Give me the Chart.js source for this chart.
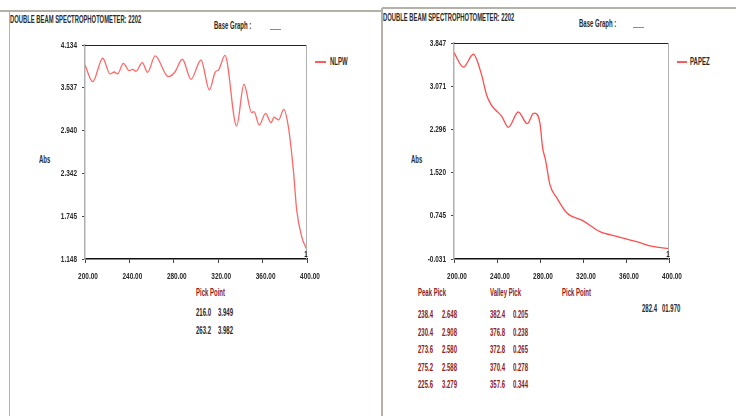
<!DOCTYPE html>
<html>
<head>
<meta charset="utf-8">
<script src="https://cdn.jsdelivr.net/npm/chart.js@4"></script>
<style>
  html, body { margin: 0; padding: 0; background: #fff; }
  body { width: 736px; height: 416px; position: relative; overflow: hidden;
         font-family: "Liberation Sans", Arial, sans-serif; }
  .frame { position: absolute; background: #b4b1a6; }
  .t { position: absolute; white-space: nowrap; color: #2a2a2a; font-size: 10px; line-height: 10px;
       font-weight: bold; transform: scaleX(0.6); transform-origin: 0 0; }
  .title { font-size: 10px; transform: scaleX(0.585); }
  .red { color: #8e2020; }
  .dash { position: absolute; height: 1.5px; background: #ff5a5a; }
  canvas { position: absolute; }
</style>
</head>
<body>
<!-- panel frames -->
<div class="frame" style="left:0;top:10px;width:382px;height:2px"></div>
<div class="frame" style="left:382px;top:7px;width:354px;height:2px"></div>
<div class="frame" style="left:9px;top:11px;width:1px;height:405px"></div>
<div class="frame" style="left:381px;top:8px;width:2px;height:408px"></div>

<!-- left panel texts -->
<div class="t title" style="left:10px;top:15px">DOUBLE BEAM SPECTROPHOTOMETER: 2202</div>
<div class="t" style="left:214px;top:21px">Base Graph :</div>
<div class="dash" style="left:270px;top:28.5px;width:11px"></div>
<div class="dash" style="left:315px;top:61px;width:11px"></div>
<div class="t" style="left:330px;top:57px">NLPW</div>
<div class="t" style="left:39px;top:155px">Abs</div>
<div class="t red" style="left:196px;top:288px">Pick Point</div>
<div id="leftPicks"></div>

<!-- right panel texts -->
<div class="t title" style="left:383px;top:13px">DOUBLE BEAM SPECTROPHOTOMETER: 2202</div>
<div class="t" style="left:579px;top:19px">Base Graph :</div>
<div class="dash" style="left:633px;top:26.5px;width:11px"></div>
<div class="dash" style="left:677px;top:61px;width:10px"></div>
<div class="t" style="left:690px;top:57px">PAPEZ</div>
<div class="t" style="left:411px;top:155px">Abs</div>
<div class="t red" style="left:418px;top:288px">Peak Pick</div>
<div class="t red" style="left:490px;top:288px">Valley Pick</div>
<div class="t red" style="left:562px;top:288px">Pick Point</div>
<div id="rightPicks"></div>

<canvas id="c1" width="381" height="300" style="left:0;top:0"></canvas>
<canvas id="c2" width="354" height="300" style="left:382px;top:0"></canvas>

<script>
// NLPW absorbance spectrum (wavelength in nm)
const nlpwWl  = [200, 206.9, 216.0, 222.5, 226.4, 229.4, 234.5, 239.9, 242.9, 245.9, 251.6, 256.4, 263.2, 275.0, 281.0, 287.7, 295.5, 304.5, 312.0, 317.1, 320.7, 326.1, 336.6, 343.2, 350.1, 352.2, 357.0, 362.7, 367.6, 370.3, 374.5, 379.0, 383.2, 387.7, 390.7, 395.2, 400];
const nlpwAbs = [3.855, 3.622, 3.949, 3.730, 3.757, 3.730, 3.879, 3.776, 3.795, 3.767, 3.887, 3.753, 3.982, 3.692, 3.757, 3.935, 3.656, 3.925, 3.506, 3.748, 3.795, 3.990, 3.004, 3.586, 3.190, 3.204, 3.018, 3.181, 3.050, 3.126, 3.088, 3.237, 2.995, 2.391, 1.833, 1.461, 1.270];

// PAPEZ absorbance spectrum
const papezWl  = [200, 208.7, 218.0, 225.6, 230.4, 234.5, 238.4, 244.4, 250.5, 259.8, 268.2, 273.6, 275.2, 280.0, 282.4, 285.0, 289.3, 295.5, 304.8, 320.3, 335.8, 351.4, 357.6, 364.0, 370.4, 372.8, 376.8, 382.4, 400];
const papezAbs = [3.674, 3.413, 3.645, 3.279, 2.908, 2.740, 2.648, 2.530, 2.333, 2.608, 2.399, 2.580, 2.588, 2.400, 1.970, 1.760, 1.300, 1.070, 0.800, 0.654, 0.460, 0.375, 0.344, 0.310, 0.278, 0.265, 0.238, 0.205, 0.155];

// axis tick labels
const nlpwTicks  = ['4.134', '3.537', '2.940', '2.342', '1.745', '1.148'];
const papezTicks = ['3.847', '3.071', '2.296', '1.520', '0.745', '-0.031'];
const wlTicks    = ['200.00', '240.00', '280.00', '320.00', '360.00', '400.00'];

// pick tables
const nlpwPickPoint   = [[216.0, 3.949], [263.2, 3.982]];
const papezPeakPick   = [[238.4, 2.648], [230.4, 2.908], [273.6, 2.580], [275.2, 2.588], [225.6, 3.279]];
const papezValleyPick = [[382.4, 0.205], [376.8, 0.238], [372.8, 0.265], [370.4, 0.278], [357.6, 0.344]];
const papezPickPoint  = [[282.4, '01.970']];

function addText(parent, text, x, y, cls) {
  const d = document.createElement('div');
  d.className = 't' + (cls ? ' ' + cls : '');
  d.style.left = x + 'px'; d.style.top = y + 'px';
  d.textContent = text;
  document.getElementById(parent).appendChild(d);
}
nlpwPickPoint.forEach((p, i) => {
  addText('leftPicks', p[0].toFixed(1), 196, 308 + i * 18);
  addText('leftPicks', p[1].toFixed(3), 218, 308 + i * 18);
});
papezPeakPick.forEach((p, i) => {
  addText('rightPicks', p[0].toFixed(1), 418, 310 + i * 17.6, 'red');
  addText('rightPicks', p[1].toFixed(3), 442, 310 + i * 17.6, 'red');
});
papezValleyPick.forEach((p, i) => {
  addText('rightPicks', p[0].toFixed(1), 490, 310 + i * 17.6, 'red');
  addText('rightPicks', p[1].toFixed(3), 513, 310 + i * 17.6, 'red');
});
papezPickPoint.forEach((p, i) => {
  addText('rightPicks', p[0].toFixed(1), 642, 304 + i * 18);
  addText('rightPicks', p[1], 662, 304 + i * 18);
});

const FONT = "'Liberation Sans', Arial, sans-serif";

// narrow lettering on the canvas: squeeze every label horizontally
function condense(canvas, k) {
  const ctx = canvas.getContext('2d');
  const orig = ctx.fillText.bind(ctx);
  ctx.fillText = function (text, x, y, maxWidth) {
    const w = ctx.measureText(text).width * k;
    orig(text, x, y, maxWidth !== undefined ? Math.min(maxWidth, w) : w);
  };
  return canvas;
}

// frame lines on top/right of the plot and the curve number at its end
const framePlugin = {
  id: 'frame',
  afterDraw(chart) {
    const { ctx, chartArea: a } = chart;
    ctx.save();
    ctx.strokeStyle = '#222';
    ctx.lineWidth = 1;
    ctx.beginPath();
    ctx.moveTo(a.left, a.top + 0.5); ctx.lineTo(a.right, a.top + 0.5);
    ctx.stroke();
    ctx.strokeStyle = '#b0b0b0';
    ctx.beginPath();
    ctx.moveTo(a.right - 0.5, a.top); ctx.lineTo(a.right - 0.5, a.bottom);
    ctx.stroke();
    const meta = chart.getDatasetMeta(0);
    const last = meta.data[meta.data.length - 1];
    ctx.fillStyle = '#222';
    ctx.font = 'bold 9px ' + FONT;
    ctx.textAlign = 'center';
    ctx.textBaseline = 'bottom';
    ctx.fillText('1', last.x - 1, a.bottom);
    ctx.restore();
  }
};

function makeChart(id, wl, abs, tickLabels, pad, yWidth, color) {
  const values = tickLabels.map(parseFloat);
  const yMin = Math.min(...values), yMax = Math.max(...values);
  return new Chart(condense(document.getElementById(id), 0.68), {
    type: 'line',
    data: {
      datasets: [{
        data: wl.map((w, i) => ({ x: w, y: abs[i] })),
        borderColor: color,
        borderWidth: 1.3,
        pointRadius: 0,
        cubicInterpolationMode: 'monotone',
        fill: false
      }]
    },
    options: {
      responsive: false,
      animation: false,
      layout: { padding: pad },
      plugins: { legend: { display: false }, tooltip: { enabled: false } },
      scales: {
        x: {
          type: 'linear', min: 200, max: 400,
          afterFit: s => { s.height = 41; },
          afterBuildTicks: s => { s.ticks = wlTicks.map(t => ({ value: parseFloat(t) })); },
          ticks: {
            callback: (v, i) => wlTicks[i],
            font: { family: FONT, size: 9.5, weight: 'bold' }, color: '#2a2a2a',
            padding: 8, labelOffset: 3, maxRotation: 0, autoSkip: false
          },
          grid: { drawOnChartArea: false, tickLength: 4, color: '#444' },
          border: { color: '#111', width: 1.5 }
        },
        y: {
          type: 'linear', min: yMin, max: yMax,
          afterFit: s => { s.width = yWidth; },
          afterBuildTicks: s => { s.ticks = values.slice().sort((a, b) => a - b).map(v => ({ value: v })); },
          ticks: {
            callback: (v) => tickLabels[values.indexOf(v)],
            font: { family: FONT, size: 9.5, weight: 'bold' }, color: '#2a2a2a',
            padding: 5, autoSkip: false
          },
          grid: { drawOnChartArea: false, tickLength: 3, color: '#444' },
          border: { color: '#b0b0b0', width: 1.5 }
        }
      }
    },
    plugins: [framePlugin]
  });
}

makeChart('c1', nlpwWl, nlpwAbs, nlpwTicks, { left: 0, top: 45, right: 74, bottom: 0 }, 85, '#ff6868');
makeChart('c2', papezWl, papezAbs, papezTicks, { left: 0, top: 43, right: 67, bottom: 0 }, 72, '#ff4e4e');
</script>
</body>
</html>
